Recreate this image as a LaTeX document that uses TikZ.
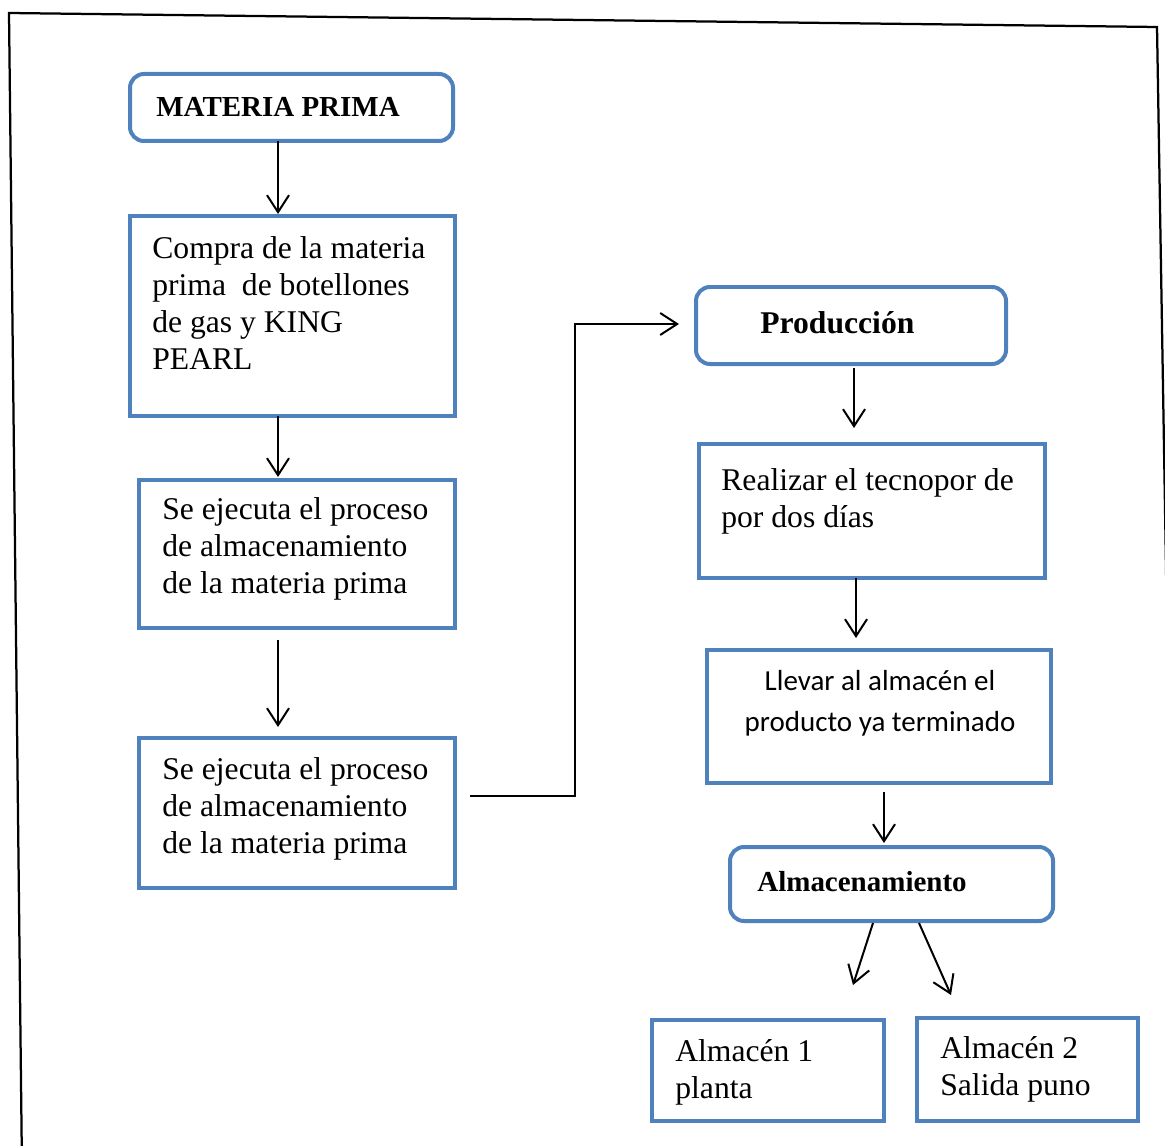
\documentclass[tikz,border=0pt]{standalone}
\usepackage{fontspec}
\setmainfont{Liberation Serif}
\newfontfamily\calibrifont{Carlito}
\usetikzlibrary{arrows.meta,fit}
\definecolor{boxblue}{HTML}{4F81BD}

\begin{document}
\begin{tikzpicture}[x=0.02cm,y=-0.02cm,
  box/.style={draw=boxblue, line width=0.08cm, inner sep=0, outer sep=0, rectangle},
  rbox/.style={box, rounded corners=0.28cm},
  % multi-line texts are placed by the baseline of their last line
  txt/.style={inner sep=0, anchor=base west, align=left, font=\fontsize{18}{20.8}\selectfont},
  btxt/.style={inner sep=0, anchor=base west, font=\fontsize{16.5}{19}\selectfont\bfseries},
  stxt/.style={inner sep=0, anchor=base, align=center, font=\calibrifont\fontsize{16.5}{23.3}\selectfont},
  arr/.style={draw=black, line width=0.04cm, -{Straight Barb[length=0.34cm,width=0.44cm]}}]

\useasboundingbox (0,0) rectangle (1165,1145);

% outer frame, slightly tilted
\begin{scope}
  \clip (0,0) rectangle (1165,1145);
  \draw[line width=0.045cm] (22,1170) -- (9,13) -- (1157,27) -- (1176,1170);
\end{scope}

% boxes
\node[rbox, fit={(130,74) (453,141)}] (mp) {};
\node[box,  fit={(130,216) (455,416)}] (compra) {};
\node[box,  fit={(139,480) (455,628)}] (se1) {};
\node[box,  fit={(139,738) (455,888)}] (se2) {};
\node[rbox, fit={(696,287) (1006,364)}] (prod) {};
\node[box,  fit={(699,444) (1045,578)}] (real) {};
\node[box,  fit={(707,650) (1051,783)}] (llevar) {};
\node[rbox, fit={(730,847) (1053,921)}] (alm) {};
\node[box,  fit={(652,1020) (884,1121)}] (a1) {};
\node[box,  fit={(917,1018) (1138,1121)}] (a2) {};

% texts
\node[btxt] (t-mp) at (156,117) {MATERIA PRIMA};
\node[txt, font=\fontsize{18}{21}\selectfont] (t-compra) at (152,369)
  {Compra de la materia\\prima\ \ de botellones\\de gas y KING\\PEARL};
\node[txt] (t-se1) at (162,593) {Se ejecuta el proceso\\de almacenamiento\\de la materia prima};
\node[txt] (t-se2) at (162,853) {Se ejecuta el proceso\\de almacenamiento\\de la materia prima};
\node[btxt, font=\fontsize{18}{21}\selectfont\bfseries] (t-prod) at (760,333) {Producción};
\node[txt, font=\fontsize{18}{21}\selectfont] (t-real) at (721,527) {Realizar el tecnopor de\\por dos días};
\node[stxt] (t-llevar) at (880,731) {Llevar al almacén el\\producto ya terminado};
\node[btxt] (t-alm) at (757,891) {Almacenamiento};
\node[txt] (t-a1) at (675,1098) {Almacén 1\\planta};
\node[txt] (t-a2) at (940,1095) {Almacén 2\\Salida puno};

% connectors
\coordinate (e1) at (278,214);
\draw[arr] (mp.south -| e1) -- (e1);
\coordinate (e2) at (278,477);
\draw[arr] (compra.south -| e2) -- (e2);
\coordinate (e3) at (278,727);
\draw[arr] (se1.south -| e3) ++(0,12) -- (e3);
\coordinate (e4) at (679,324);
\draw[arr] (se2.east) ++(15,-17) -- ++(105,0) |- (e4);
\coordinate (e5) at (854,428);
\draw[arr] (prod.south -| e5) ++(0,4) -- (e5);
\coordinate (e6) at (856,638);
\draw[arr] (real.south -| e6) -- (e6);
\coordinate (e7) at (884,843);
\draw[arr] (llevar.south -| e7) ++(0,9) -- (e7);
\coordinate (e8) at (853,985);
\draw[arr] (alm.south) ++(-18.5,2) -- (e8);
\coordinate (e9) at (951,995);
\draw[arr] (alm.south) ++(27.5,2) -- (e9);
\end{tikzpicture}
\end{document}
